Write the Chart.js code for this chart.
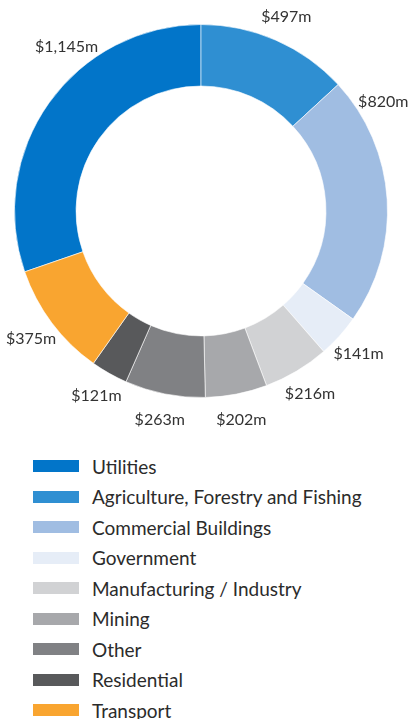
<!DOCTYPE html>
<html>
<head>
<meta charset="utf-8">
<script src="https://cdn.jsdelivr.net/npm/chart.js@4/dist/chart.umd.min.js"></script>
<style>
  body { margin: 0; background: #fff; font-family: Lato, "Open Sans", sans-serif; }
  #wrap { position: relative; width: 412px; height: 430px; }
  #legend { list-style: none; margin: 0; padding: 0; position: absolute; left: 33px; top: 451px; }
  #legend li { height: 30.5px; display: flex; align-items: center; font-size: 19px; color: #2b2b2b; }
  #legend .sw { width: 46px; height: 12px; margin-right: 13px; flex: none; }
</style>
</head>
<body>
<div id="wrap"><canvas id="chart"></canvas></div>
<ul id="legend"></ul>
<script>
const sectors = ['Utilities', 'Agriculture, Forestry and Fishing', 'Commercial Buildings', 'Government',
  'Manufacturing / Industry', 'Mining', 'Other', 'Residential', 'Transport'];
const spend = [1145, 497, 820, 141, 216, 202, 263, 121, 375];
const colours = ['#0275c9', '#2f8fd2', '#a0bde2', '#e6edf7', '#d1d2d4', '#a7a8ab', '#808184', '#58595b', '#f9a530'];

const total = spend.reduce((a, b) => a + b, 0);
const money = v => '$' + v.toLocaleString('en-US') + 'm';

// value labels just outside the ring
const outsideLabels = {
  id: 'outsideLabels',
  afterDatasetsDraw(chart, args, opts) {
    const ctx = chart.ctx;
    const meta = chart.getDatasetMeta(0);
    ctx.save();
    ctx.font = '16px Lato, sans-serif';
    ctx.fillStyle = '#333';
    ctx.textAlign = 'center';
    ctx.textBaseline = 'middle';
    meta.data.forEach((arc, i) => {
      const f = opts.along[i] ?? 0.5;
      const a = arc.startAngle + f * (arc.endAngle - arc.startAngle);
      const r = arc.outerRadius + opts.offset;
      ctx.fillText(money(spend[i]), arc.x + Math.cos(a) * r, arc.y + Math.sin(a) * r);
    });
    ctx.restore();
  }
};

const chart = new Chart(document.getElementById('chart'), {
  type: 'doughnut',
  data: {
    labels: sectors,
    datasets: [{
      data: spend,
      backgroundColor: colours,
      borderColor: 'rgba(255,255,255,0.6)',
      borderWidth: 1,
      hoverOffset: 0
    }]
  },
  options: {
    responsive: true,
    maintainAspectRatio: false,
    animation: false,
    cutout: '67%',
    rotation: -spend[0] / total * 360,
    layout: { padding: { left: 14, right: 24, top: 24, bottom: 32 } },
    events: [],
    plugins: {
      legend: { display: false },
      tooltip: { enabled: false },
      outsideLabels: { offset: 26, along: { 0: 0.64, 2: 0.15 } }
    }
  },
  plugins: [outsideLabels]
});

const legend = document.getElementById('legend');
sectors.forEach((name, i) => {
  const li = document.createElement('li');
  const sw = document.createElement('span');
  sw.className = 'sw';
  sw.style.background = colours[i];
  li.appendChild(sw);
  li.appendChild(document.createTextNode(name));
  legend.appendChild(li);
});
</script>
</body>
</html>
